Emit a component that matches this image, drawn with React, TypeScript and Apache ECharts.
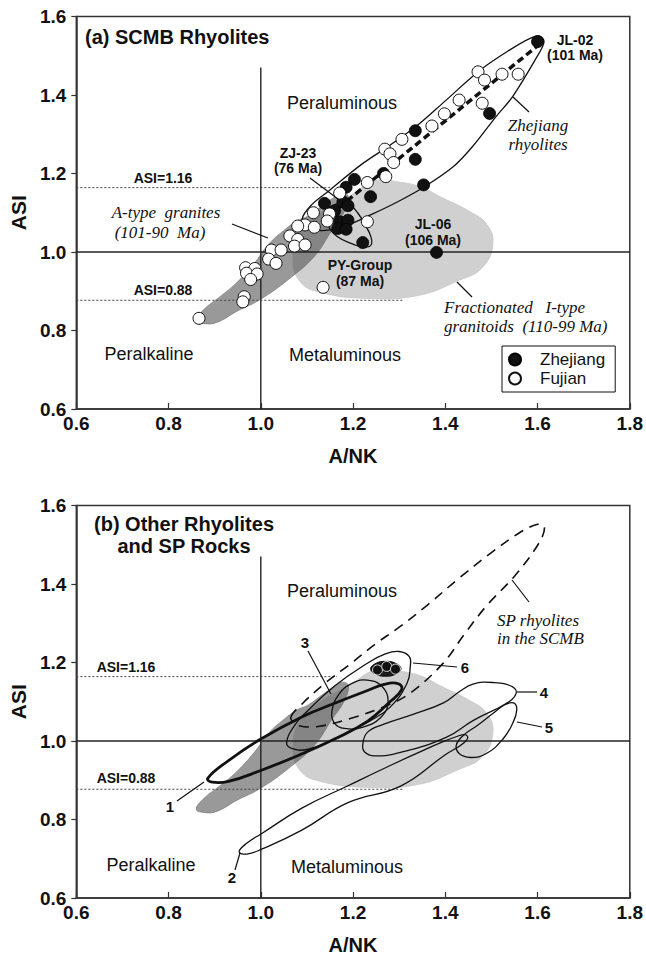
import React, { useEffect, useRef } from 'react';
import * as echarts from 'echarts';

// ---------- data (A/NK, ASI) ----------
const zhejiangPts = [
  [1.600, 1.536], [1.496, 1.353], [1.335, 1.309], [1.335, 1.236], [1.266, 1.200],
  [1.353, 1.171], [1.203, 1.185], [1.185, 1.165], [1.238, 1.141], [1.138, 1.124],
  [1.178, 1.128], [1.189, 1.118], [1.171, 1.077], [1.189, 1.081], [1.167, 1.060],
  [1.185, 1.058], [1.221, 1.024], [1.381, 0.999], [1.160, 1.105]
];
const fujianPts = [
  [1.471, 1.459], [1.485, 1.438], [1.523, 1.453], [1.558, 1.453], [1.430, 1.387],
  [1.480, 1.379], [1.398, 1.352], [1.371, 1.321], [1.306, 1.287], [1.269, 1.262],
  [1.280, 1.250], [1.288, 1.228], [1.271, 1.192], [1.231, 1.177], [1.171, 1.150],
  [1.114, 1.100], [1.149, 1.097], [1.144, 1.079], [1.096, 1.069], [1.116, 1.063],
  [1.080, 1.066], [1.063, 1.041], [1.080, 1.032], [1.073, 1.015], [1.096, 1.018],
  [1.023, 1.005], [1.044, 1.005], [1.017, 0.982], [1.033, 0.971], [0.967, 0.960],
  [0.987, 0.958], [0.969, 0.946], [0.992, 0.944], [0.978, 0.930], [1.231, 1.077],
  [1.135, 0.910], [0.866, 0.831], [0.964, 0.886], [0.961, 0.873]
];
const group6Pts = [[1.253, 1.181], [1.273, 1.190], [1.292, 1.183]];

const aTypeRegion = [
  [0.86, 0.826], [0.875, 0.852], [0.91, 0.885], [0.946, 0.92], [0.985, 0.97],
  [1.017, 1.02], [1.05, 1.055], [1.08, 1.08], [1.103, 1.092], [1.13, 1.115],
  [1.16, 1.14], [1.178, 1.15], [1.19, 1.14], [1.18, 1.10], [1.153, 1.053],
  [1.117, 0.99], [1.06, 0.93], [0.996, 0.877], [0.95, 0.85], [0.903, 0.82], [0.875, 0.818]
];
const iTypeRegion = [
  [1.07, 0.985], [1.085, 1.05], [1.13, 1.10], [1.19, 1.14], [1.25, 1.182],
  [1.30, 1.178], [1.346, 1.166], [1.39, 1.14], [1.45, 1.105], [1.49, 1.07],
  [1.503, 1.02], [1.48, 0.96], [1.43, 0.928], [1.34, 0.889], [1.23, 0.882],
  [1.13, 0.897], [1.085, 0.925]
];
const zjEnvelope = [
  [1.09, 1.085], [1.11, 1.12], [1.15, 1.158], [1.217, 1.222], [1.28, 1.272],
  [1.339, 1.322], [1.40, 1.385], [1.474, 1.462], [1.54, 1.515], [1.585, 1.545],
  [1.605, 1.55], [1.614, 1.535], [1.60, 1.50], [1.546, 1.396], [1.51, 1.345],
  [1.46, 1.27], [1.417, 1.217], [1.353, 1.165], [1.30, 1.13], [1.239, 1.095],
  [1.19, 1.07], [1.14, 1.055], [1.105, 1.06]
];
const zj23Loop = [
  [1.14, 1.10], [1.16, 1.12], [1.185, 1.125], [1.21, 1.10], [1.235, 1.05],
  [1.24, 1.02], [1.225, 1.012], [1.20, 1.02], [1.165, 1.04], [1.145, 1.07]
];
const trendLine = [[1.15, 1.095], [1.61, 1.535]];

const spEnvelope = [
  [1.065, 1.06], [1.09, 1.095], [1.139, 1.147], [1.196, 1.198], [1.246, 1.245],
  [1.30, 1.29], [1.36, 1.345], [1.43, 1.415], [1.50, 1.48], [1.56, 1.53],
  [1.60, 1.552], [1.615, 1.545], [1.603, 1.504], [1.55, 1.42], [1.489, 1.344],
  [1.44, 1.27], [1.396, 1.199], [1.324, 1.122], [1.267, 1.087], [1.196, 1.058],
  [1.124, 1.037], [1.08, 1.04]
];
const field1 = [
  [0.885, 0.905], [0.93, 0.95], [1.0, 1.005], [1.09, 1.062], [1.16, 1.096],
  [1.23, 1.128], [1.27, 1.145], [1.30, 1.145], [1.305, 1.13], [1.28, 1.10],
  [1.231, 1.05], [1.16, 1.005], [1.085, 0.965], [1.0, 0.925], [0.93, 0.897], [0.895, 0.895]
];
const field2 = [
  [0.953, 0.718], [0.97, 0.74], [1.003, 0.765], [1.089, 0.829], [1.189, 0.886],
  [1.267, 0.930], [1.35, 0.975], [1.431, 1.014], [1.448, 1.012], [1.44, 0.995],
  [1.40, 0.965], [1.303, 0.885], [1.189, 0.843], [1.089, 0.773], [1.003, 0.725], [0.97, 0.712]
];
const field3 = [
  [1.154, 1.075], [1.17, 1.12], [1.20, 1.148], [1.231, 1.155], [1.262, 1.14],
  [1.276, 1.10], [1.26, 1.06], [1.22, 1.035], [1.181, 1.032], [1.16, 1.045]
];
const field4 = [
  [1.221, 0.99], [1.231, 1.022], [1.267, 1.043], [1.33, 1.068], [1.396, 1.097],
  [1.431, 1.126], [1.46, 1.145], [1.503, 1.149], [1.546, 1.138], [1.553, 1.12],
  [1.531, 1.095], [1.46, 1.052], [1.403, 1.01], [1.303, 0.971], [1.246, 0.962], [1.225, 0.972]
];
const field5 = [
  [1.424, 0.99], [1.44, 1.015], [1.47, 1.04], [1.503, 1.07], [1.53, 1.093],
  [1.548, 1.097], [1.555, 1.08], [1.546, 1.045], [1.525, 1.005], [1.489, 0.968],
  [1.455, 0.958], [1.43, 0.968]
];
const field6 = [
  [1.056, 0.995], [1.074, 1.041], [1.10, 1.075], [1.16, 1.14], [1.231, 1.198],
  [1.27, 1.222], [1.30, 1.228], [1.322, 1.215], [1.324, 1.19], [1.317, 1.147],
  [1.281, 1.087], [1.235, 1.05], [1.196, 1.028], [1.15, 1.0], [1.103, 0.979], [1.07, 0.98]
];
const oval6 = [
  [1.238, 1.184], [1.25, 1.198], [1.271, 1.203], [1.292, 1.198], [1.304, 1.184],
  [1.292, 1.17], [1.271, 1.165], [1.25, 1.17]
];

const hRef = [[0.6, 1.0], [1.8, 1.0]];
const vRef = [[1.0, 0.6], [1.0, 1.47]];
const asiHighTop = [[0.6, 1.164], [1.15, 1.164]];
const asiHighBottom = [[0.6, 1.164], [1.165, 1.164]];
const asiLow = [[0.6, 0.877], [1.31, 0.877]];

// ---------- styles ----------
const SANS = '"Liberation Sans", Arial, Helvetica, sans-serif';
const SERIF = '"Liberation Serif", "Times New Roman", serif';
const INK = '#111';

function shape(pts: number[][], g: number, style: any, z: number, smooth = 0.45) {
  return {
    type: 'custom',
    xAxisIndex: g,
    yAxisIndex: g,
    silent: true,
    z,
    data: [pts[0]],
    renderItem: (_p: any, api: any) => ({
      type: 'polygon',
      shape: { points: pts.map((p) => api.coord(p)), smooth },
      style,
    }),
  };
}

function line(pts: number[][], g: number, lineStyle: any, z: number) {
  return {
    type: 'line',
    xAxisIndex: g,
    yAxisIndex: g,
    silent: true,
    z,
    symbol: 'none',
    data: pts,
    lineStyle,
  };
}

function txt(text: string, x: number, y: number, font: string, align = 'left') {
  return {
    type: 'text',
    x,
    y,
    z: 100,
    silent: true,
    style: {
      text,
      font,
      fill: INK,
      align,
      textAlign: align,
      verticalAlign: 'middle',
      textVerticalAlign: 'middle',
    },
  };
}

function seg(x1: number, y1: number, x2: number, y2: number, w = 1.2) {
  return {
    type: 'line',
    z: 100,
    silent: true,
    shape: { x1, y1, x2, y2 },
    style: { stroke: INK, lineWidth: w },
  };
}

const axisCommonX = (g: number) => ({
  type: 'value',
  gridIndex: g,
  min: 0.6,
  max: 1.8,
  interval: 0.2,
  name: 'A/NK',
  nameLocation: 'middle',
  nameGap: 37,
  nameTextStyle: { fontFamily: SANS, fontWeight: 'bold', fontSize: 20, color: INK },
  axisLine: { show: true, lineStyle: { color: '#333', width: 1.5 } },
  axisTick: { show: true, inside: true, length: 6, lineStyle: { color: '#333', width: 1.2 } },
  axisLabel: {
    margin: 5,
    fontFamily: SANS,
    fontWeight: 'bold',
    fontSize: 19,
    color: INK,
    formatter: (v: number) => v.toFixed(1),
  },
  splitLine: { show: false },
});

const axisCommonY = (g: number) => ({
  type: 'value',
  gridIndex: g,
  min: 0.6,
  max: 1.6,
  interval: 0.2,
  name: 'ASI',
  nameLocation: 'middle',
  nameGap: 44,
  nameRotate: 90,
  nameTextStyle: { fontFamily: SANS, fontWeight: 'bold', fontSize: 21, color: INK },
  axisLine: { show: true, lineStyle: { color: '#333', width: 1.5 } },
  axisTick: { show: true, inside: false, length: 5, lineStyle: { color: '#333', width: 1.2 } },
  axisLabel: {
    margin: 10,
    fontFamily: SANS,
    fontWeight: 'bold',
    fontSize: 19,
    color: INK,
    formatter: (v: number) => v.toFixed(1),
  },
  splitLine: { show: false },
});

export default function App() {
  const ref = useRef<HTMLDivElement>(null);
  useEffect(() => {
    if (!ref.current) return;
    const chart = echarts.init(ref.current, undefined, { renderer: 'svg' });
    const lightFill = { fill: '#d0d0d0', stroke: '#c6c6c6', lineWidth: 0.8 };
    const darkFill = { fill: 'rgba(80,80,80,0.58)', stroke: 'rgba(110,110,110,0.7)', lineWidth: 0.8 };
    const thin = { fill: 'none', stroke: INK, lineWidth: 1.3 };
    const refLine = { color: '#222', width: 1.4 };
    const dotted = { color: '#444', width: 1, type: [2, 2] };

    const series: any[] = [
      // ---- panel (a) ----
      shape(iTypeRegion, 0, lightFill, 1),
      shape(aTypeRegion, 0, darkFill, 2),
      line(hRef, 0, refLine, 3),
      line(vRef, 0, refLine, 3),
      line(asiHighTop, 0, dotted, 3),
      line(asiLow, 0, dotted, 3),
      shape(zjEnvelope, 0, thin, 4, 0.35),
      shape(zj23Loop, 0, thin, 4),
      line(trendLine, 0, { color: INK, width: 3.5, type: [7, 4] }, 4),
      {
        name: 'Zhejiang',
        type: 'scatter',
        xAxisIndex: 0,
        yAxisIndex: 0,
        z: 6,
        symbol: 'circle',
        symbolSize: 12,
        data: zhejiangPts,
        itemStyle: { color: INK, borderColor: '#000', borderWidth: 0.8, opacity: 1 },
      },
      {
        name: 'Fujian',
        type: 'scatter',
        xAxisIndex: 0,
        yAxisIndex: 0,
        z: 6,
        symbol: 'circle',
        symbolSize: 12,
        data: fujianPts,
        itemStyle: { color: '#fff', borderColor: INK, borderWidth: 1, opacity: 1 },
      },
      // ---- panel (b) ----
      shape(iTypeRegion, 1, lightFill, 1),
      shape(aTypeRegion, 1, darkFill, 2),
      line(hRef, 1, refLine, 3),
      line(vRef, 1, refLine, 3),
      line(asiHighBottom, 1, dotted, 3),
      line(asiLow, 1, dotted, 3),
      shape(spEnvelope, 1, { fill: 'none', stroke: INK, lineWidth: 1.6, lineDash: [10, 7] }, 4, 0.35),
      shape(field1, 1, { fill: 'none', stroke: INK, lineWidth: 2.8 }, 4),
      shape(field2, 1, thin, 4),
      shape(field3, 1, thin, 4),
      shape(field4, 1, thin, 4),
      shape(field5, 1, thin, 4),
      shape(field6, 1, thin, 4),
      shape(oval6, 1, { fill: '#1a1a1a', stroke: INK, lineWidth: 1 }, 5),
      {
        name: 'SP6',
        type: 'scatter',
        xAxisIndex: 1,
        yAxisIndex: 1,
        z: 6,
        symbol: 'circle',
        symbolSize: 10,
        data: group6Pts,
        itemStyle: { color: INK, borderColor: '#fff', borderWidth: 0.8, opacity: 1 },
      },
    ];

    const B14 = `bold 14px ${SANS}`;
    const B15 = `bold 15px ${SANS}`;
    const B20 = `bold 20px ${SANS}`;
    const R18 = `18px ${SANS}`;
    const I17 = `italic 17px ${SERIF}`;

    const graphic: any[] = [
      // panel (a)
      txt('(a) SCMB Rhyolites', 85, 37, B20),
      txt('Peraluminous', 287, 103, R18),
      txt('Peralkaline', 149, 354, R18, 'center'),
      txt('Metaluminous', 289, 355, R18),
      txt('ASI=1.16', 163, 178, B14, 'center'),
      txt('ASI=0.88', 163, 290, B14, 'center'),
      txt('ZJ-23', 298, 153, B14, 'center'),
      txt('(76 Ma)', 298, 168, B14, 'center'),
      txt('JL-02', 575, 40, B14, 'center'),
      txt('(101 Ma)', 575, 55, B14, 'center'),
      txt('JL-06', 433, 224, B14, 'center'),
      txt('(106 Ma)', 433, 240, B14, 'center'),
      txt('PY-Group', 360, 265, B14, 'center'),
      txt('(87 Ma)', 360, 281, B14, 'center'),
      txt('Zhejiang', 538, 125, I17, 'center'),
      txt('rhyolites', 538, 144, I17, 'center'),
      txt('A-type  granites', 166, 212, I17, 'center'),
      txt('(101-90  Ma)', 160, 232, I17, 'center'),
      txt('Fractionated   I-type', 444, 307, I17),
      txt('granitoids  (110-99 Ma)', 444, 326, I17),
      seg(310, 178, 338, 199),
      seg(513, 97, 529, 112),
      seg(232, 224, 268, 238),
      seg(457, 282, 472, 297),
      // panel (b)
      txt('(b) Other Rhyolites', 184, 524, B20, 'center'),
      txt('and SP Rocks', 184, 546, B20, 'center'),
      txt('Peraluminous', 287, 591, R18),
      txt('Peralkaline', 151, 865, R18, 'center'),
      txt('Metaluminous', 291, 867, R18),
      txt('ASI=1.16', 126, 667, B14, 'center'),
      txt('ASI=0.88', 126, 778, B14, 'center'),
      txt('SP rhyolites', 497, 620, I17),
      txt('in the SCMB', 497, 638, I17),
      txt('1', 170, 806, B15, 'center'),
      txt('2', 232, 877, B15, 'center'),
      txt('3', 305, 642, B15, 'center'),
      txt('4', 544, 692, B15, 'center'),
      txt('5', 549, 727, B15, 'center'),
      txt('6', 465, 667, B15, 'center'),
      seg(512, 580, 529, 602),
      seg(177, 801, 204, 782),
      seg(235, 870, 240, 853),
      seg(308, 651, 331, 694),
      seg(517, 692, 537, 692),
      seg(517, 722, 542, 727),
      seg(413, 663, 457, 667),
    ];

    chart.setOption({
      animation: false,
      backgroundColor: '#fff',
      grid: [
        { left: 72, top: 16.5, width: 560, height: 392.5, show: true, borderColor: '#333', borderWidth: 1.5, backgroundColor: 'transparent' },
        { left: 72, top: 505.5, width: 560, height: 392.5, show: true, borderColor: '#333', borderWidth: 1.5, backgroundColor: 'transparent' },
      ],
      xAxis: [axisCommonX(0), axisCommonX(1)],
      yAxis: [axisCommonY(0), axisCommonY(1)],
      legend: {
        data: ['Zhejiang', 'Fujian'],
        orient: 'vertical',
        left: 502,
        top: 346,
        padding: [5, 10, 5, 6],
        itemGap: 2,
        itemWidth: 12,
        itemHeight: 12,
        icon: 'circle',
        borderColor: '#111',
        borderWidth: 1,
        backgroundColor: '#fff',
        textStyle: { fontFamily: SANS, fontSize: 17, color: INK, padding: [0, 0, 0, 14] },
      },
      series,
      graphic,
    });
    return () => chart.dispose();
  }, []);
  return (
    <div
      ref={ref}
      style={{ position: 'absolute', left: 0, top: 0, width: 646, height: 956, background: '#fff' }}
    />
  );
}
